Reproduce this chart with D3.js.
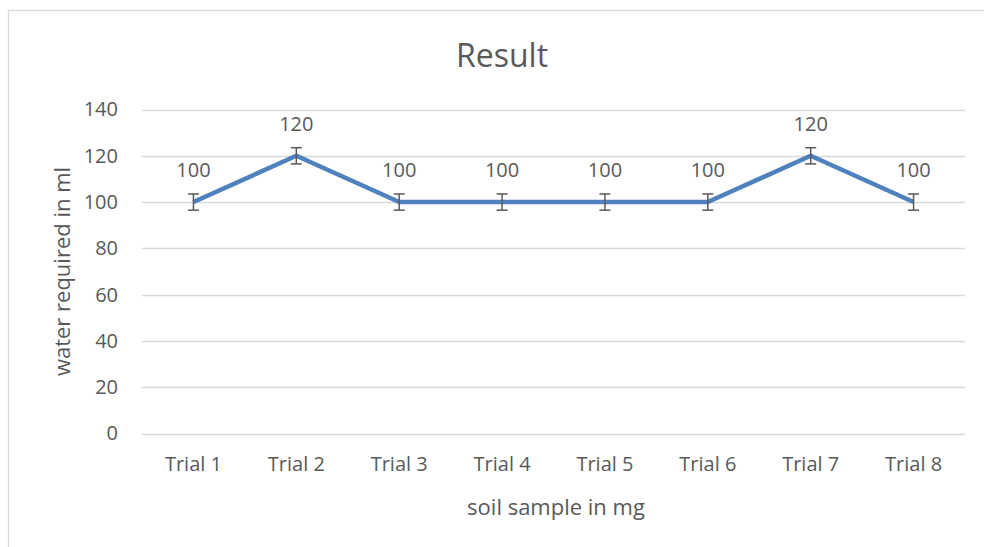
<!DOCTYPE html>
<head>
<meta charset="utf-8">
<title>Result</title>
<style>
  body { margin: 0; background: #fff; }
  text { font-family: "Open Sans", "Noto Sans", sans-serif; fill: #595959; }
</style>
</head>
<body>
<div id="chartDiv"></div>
<script src="https://d3js.org/d3.v7.min.js"></script>
<script>

  var trials = ["Trial 1", "Trial 2", "Trial 3", "Trial 4", "Trial 5", "Trial 6", "Trial 7", "Trial 8"];
  var water = [100, 120, 100, 100, 100, 100, 120, 100];
  var errors = [3.5, 3.5, 3.5, 3.5, 3.5, 3.5, 3.5, 3.5];
  var yTicks = [0, 20, 40, 60, 80, 100, 120, 140];

  var width = 984, height = 547;
  var plotLeft = 142, plotRight = 965, plotTop = 109.5, plotBottom = 433.5;

  var svg = d3.select("#chartDiv").append("svg")
      .attr("width", width)
      .attr("height", height);

  // chart frame
  svg.append("rect")
      .attr("x", 8.5).attr("y", 10.5)
      .attr("width", 1000).attr("height", 600)
      .attr("fill", "#fff")
      .attr("stroke", "#d9d9d9")
      .attr("stroke-width", 1.3);

  var x = d3.scaleBand().domain(trials).range([plotLeft, plotRight]);
  var y = d3.scaleLinear().domain([0, 140]).range([plotBottom, plotTop]);

  // gridlines
  svg.append("g")
      .selectAll("line")
      .data(yTicks)
      .enter().append("line")
      .attr("x1", plotLeft).attr("x2", plotRight)
      .attr("y1", function(d) { return Math.round(y(d)) + 0.5; })
      .attr("y2", function(d) { return Math.round(y(d)) + 0.5; })
      .attr("stroke", "#d9d9d9")
      .attr("stroke-width", 1.3);

  // y axis labels
  var yAxis = svg.append("g")
      .attr("transform", "translate(" + plotLeft + ",0)")
      .call(d3.axisLeft(y).tickValues(yTicks).tickSize(0).tickPadding(24));
  yAxis.select(".domain").remove();
  yAxis.selectAll("text").style("font-size", "20px").attr("fill", "#595959");

  // x axis labels
  var xAxis = svg.append("g")
      .attr("transform", "translate(0," + plotBottom + ")")
      .call(d3.axisBottom(x).tickSize(0).tickPadding(23));
  xAxis.select(".domain").remove();
  xAxis.selectAll("text").style("font-size", "20px").attr("fill", "#595959");

  // title
  svg.append("text")
      .attr("x", 502).attr("y", 67)
      .attr("text-anchor", "middle")
      .style("font-size", "32px")
      .text("Result");

  // axis titles
  svg.append("text")
      .attr("x", 556).attr("y", 515)
      .attr("text-anchor", "middle")
      .style("font-size", "22px")
      .text("soil sample in mg");

  svg.append("text")
      .attr("transform", "translate(70," + (plotTop + plotBottom) / 2 + ") rotate(-90)")
      .attr("text-anchor", "middle")
      .style("font-size", "22px")
      .text("water required in ml");

  var cx = function(i) { return x(trials[i]) + x.bandwidth() / 2; };

  // line
  var line = d3.line()
      .x(function(d, i) { return cx(i); })
      .y(function(d) { return y(d); });

  svg.append("path")
      .datum(water)
      .attr("d", line)
      .attr("fill", "none")
      .attr("stroke", "#4f81bd")
      .attr("stroke-width", 4.5)
      .attr("stroke-linejoin", "round");

  // error bars
  var eb = svg.append("g").selectAll("g")
      .data(water)
      .enter().append("g")
      .attr("stroke", "#595959")
      .attr("stroke-width", 1.5);
  eb.append("line")
      .attr("x1", function(d, i) { return cx(i); })
      .attr("x2", function(d, i) { return cx(i); })
      .attr("y1", function(d, i) { return y(d + errors[i]); })
      .attr("y2", function(d, i) { return y(d - errors[i]); });
  eb.append("line")
      .attr("x1", function(d, i) { return cx(i) - 5.5; })
      .attr("x2", function(d, i) { return cx(i) + 5.5; })
      .attr("y1", function(d, i) { return y(d + errors[i]); })
      .attr("y2", function(d, i) { return y(d + errors[i]); });
  eb.append("line")
      .attr("x1", function(d, i) { return cx(i) - 5.5; })
      .attr("x2", function(d, i) { return cx(i) + 5.5; })
      .attr("y1", function(d, i) { return y(d - errors[i]); })
      .attr("y2", function(d, i) { return y(d - errors[i]); });

  // data labels
  svg.append("g").selectAll("text")
      .data(water)
      .enter().append("text")
      .attr("x", function(d, i) { return cx(i); })
      .attr("y", function(d) { return y(d) - 32; })
      .attr("dy", "0.35em")
      .attr("text-anchor", "middle")
      .style("font-size", "20px")
      .attr("fill", "#404040")
      .text(function(d) { return d; });
</script>
</body>
